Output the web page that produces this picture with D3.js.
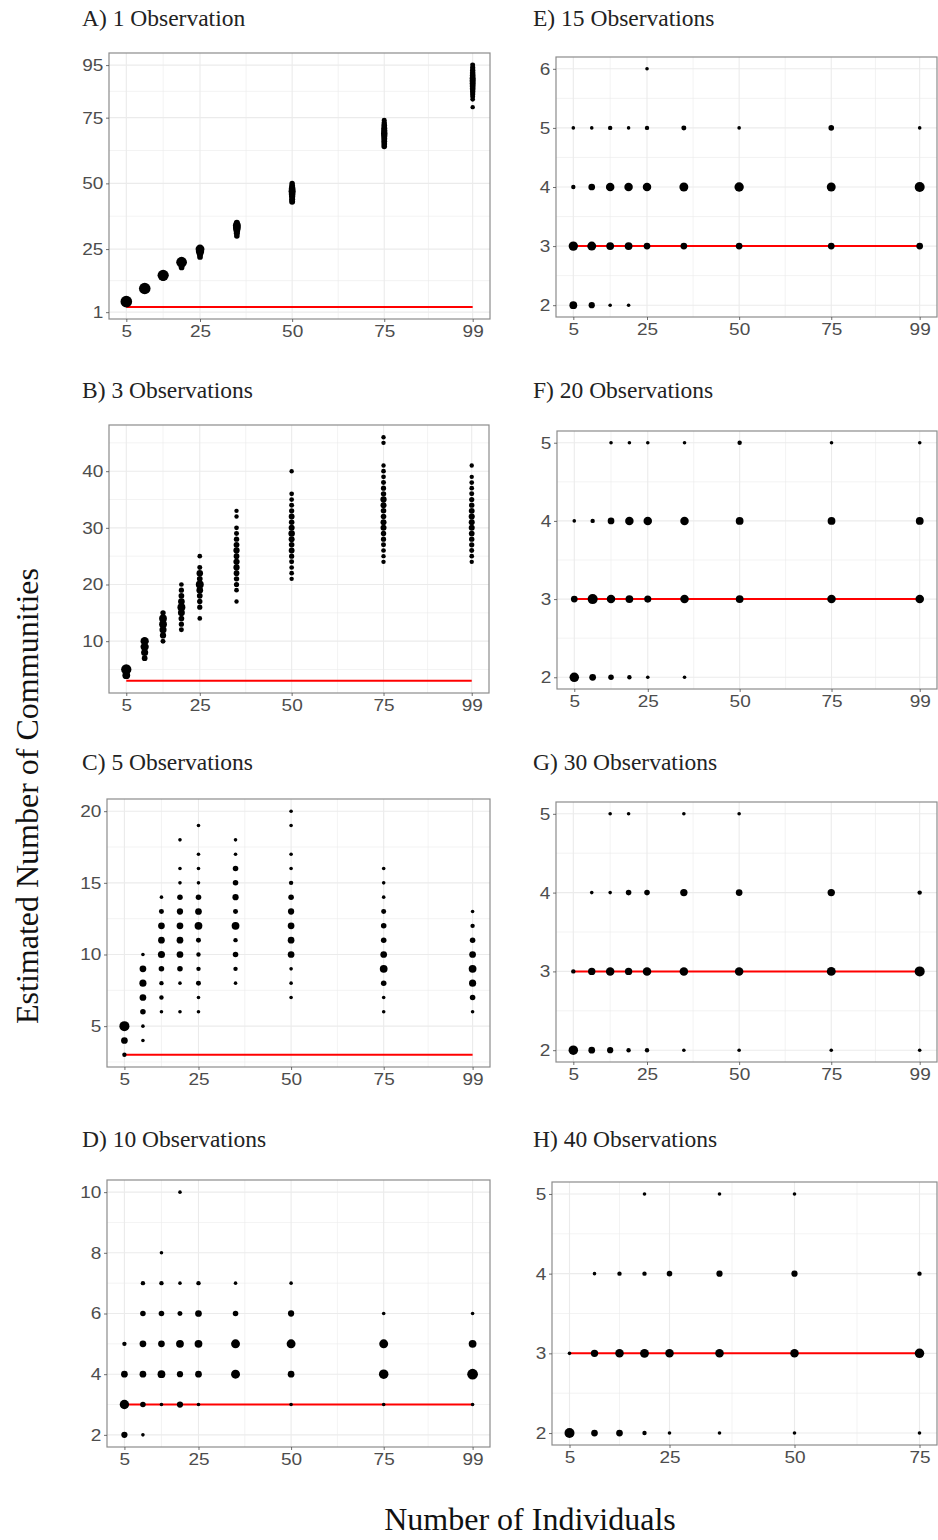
<!DOCTYPE html>
<html>
<head>
<meta charset="utf-8">
<script src="https://cdn.jsdelivr.net/npm/d3@7/dist/d3.min.js"></script>
<style>
  body { margin: 0; background: #fff; }
  svg { display: block; }
  .tick text { font-family: "Liberation Sans", Arial, sans-serif; font-size: 17px; fill: #4d4d4d; }
  .tick line { stroke: #4d4d4d; stroke-width: 0.8; }
  .ptitle { font-family: "Liberation Serif", "Times New Roman", serif; font-size: 23.5px; fill: #222; }
  .atitle { font-family: "Liberation Serif", "Times New Roman", serif; font-size: 32px; fill: #111; }
</style>
</head>
<body>
<svg id="chart" width="938" height="1540"></svg>
<script>
// estimated number of communities, true value is 3
var trueCommunities = 3;
var xTicksMain = [5, 25, 50, 75, 99];
var xTicksH = [5, 25, 50, 75];
var yTicksA = [1, 25, 50, 75, 95];
var yTicksB = [10, 20, 30, 40];
var yTicksC = [5, 10, 15, 20];
var yTicksD = [2, 4, 6, 8, 10];
var yTicksE = [2, 3, 4, 5, 6];
var yTicksFGH = [2, 3, 4, 5];

// [individuals, estimate, count of runs]
var obsA = [
  [5,5,100],
  [10,10,100],
  [15,15,92],[15,14,8],
  [20,20,80],[20,19,12],[20,18,8],
  [25,25,45],[25,24,35],[25,23,12],[25,22,8],
  [35,35,10],[35,34,30],[35,33,28],[35,32,15],[35,31,10],[35,30,7],
  [50,50,6],[50,49,10],[50,48,16],[50,47,20],[50,46,16],[50,45,12],[50,44,10],[50,43,10],
  [75,74,4],[75,73,6],[75,72,8],[75,71,10],[75,70,12],[75,69,14],[75,68,12],[75,67,10],[75,66,9],[75,65,8],[75,64,7],
  [99,95,4],[99,94,5],[99,93,6],[99,92,7],[99,91,8],[99,90,10],[99,89,11],[99,88,10],[99,87,9],[99,86,8],[99,85,6],[99,84,5],[99,83,4],[99,82,3],[99,79,2]
];
var obsB = [
  [5,5,70],[5,4,28],
  [10,10,35],[10,9,35],[10,8,20],[10,7,8],
  [15,15,6],[15,14,28],[15,13,28],[15,12,20],[15,11,12],[15,10,4],
  [20,20,3],[20,19,5],[20,18,8],[20,17,16],[20,16,30],[20,15,18],[20,14,8],[20,13,5],[20,12,4],
  [25,25,3],[25,23,4],[25,22,14],[25,21,8],[25,20,30],[25,19,16],[25,18,8],[25,17,6],[25,16,5],[25,14,3],
  [35,33,2],[35,32,2],[35,30,3],[35,29,4],[35,28,6],[35,27,9],[35,26,12],[35,25,8],[35,24,12],[35,23,12],[35,22,8],[35,21,6],[35,20,5],[35,19,3],[35,17,2],
  [50,40,2],[50,36,3],[50,35,3],[50,34,4],[50,33,5],[50,32,9],[50,31,7],[50,30,10],[50,29,14],[50,28,10],[50,27,7],[50,26,9],[50,25,5],[50,24,4],[50,23,3],[50,22,3],[50,21,2],
  [75,46,2],[75,45,2],[75,41,2],[75,40,3],[75,39,3],[75,38,4],[75,37,5],[75,36,6],[75,35,12],[75,34,10],[75,33,7],[75,32,7],[75,31,10],[75,30,10],[75,29,6],[75,28,5],[75,27,4],[75,26,3],[75,25,2],[75,24,2],
  [99,41,2],[99,39,2],[99,38,3],[99,37,3],[99,36,4],[99,35,5],[99,34,6],[99,33,9],[99,32,11],[99,31,10],[99,30,10],[99,29,8],[99,28,6],[99,27,5],[99,26,4],[99,25,3],[99,24,2]
];
var obsC = [
  [5,5,65],[5,4,16],[5,3,2],
  [10,10,1],[10,9,16],[10,8,20],[10,7,16],[10,6,7],[10,5,1],[10,4,1],
  [15,14,1],[15,13,4],[15,12,16],[15,11,16],[15,10,20],[15,9,7],[15,8,2],[15,7,2],[15,6,1],
  [20,18,1],[20,16,1],[20,15,1],[20,14,7],[20,13,12],[20,12,16],[20,11,16],[20,10,16],[20,9,7],[20,8,1],[20,6,1],
  [25,19,1],[25,17,1],[25,16,1],[25,15,1],[25,14,7],[25,13,16],[25,12,28],[25,11,4],[25,10,2],[25,9,2],[25,8,4],[25,7,1],[25,6,1],
  [35,18,1],[35,17,1],[35,16,7],[35,15,7],[35,14,12],[35,13,4],[35,12,28],[35,11,2],[35,10,7],[35,9,2],[35,8,1],
  [50,20,1],[50,19,1],[50,17,1],[50,16,1],[50,15,2],[50,14,7],[50,13,12],[50,12,16],[50,11,16],[50,10,16],[50,9,1],[50,8,1],[50,7,1],
  [75,16,1],[75,15,1],[75,14,1],[75,13,4],[75,12,7],[75,11,7],[75,10,16],[75,9,28],[75,8,7],[75,7,1],[75,6,1],
  [99,13,1],[99,12,2],[99,11,7],[99,10,16],[99,9,28],[99,8,20],[99,7,7],[99,6,1]
];
var obsD = [
  [5,5,2],[5,4,16],[5,3,52],[5,2,12],
  [10,7,2],[10,6,7],[10,5,16],[10,4,16],[10,3,7],[10,2,1],
  [15,8,1],[15,7,2],[15,6,7],[15,5,16],[15,4,28],[15,3,1],
  [20,10,1],[20,7,1],[20,6,4],[20,5,28],[20,4,12],[20,3,12],
  [25,7,2],[25,6,16],[25,5,28],[25,4,16],[25,3,1],
  [35,7,1],[35,6,7],[35,5,45],[35,4,45],
  [50,7,1],[50,6,12],[50,5,45],[50,4,16],[50,3,1],
  [75,6,1],[75,5,45],[75,4,55],[75,3,1],
  [99,6,1],[99,5,28],[99,4,80],[99,3,1]
];
var obsE = [
  [5,5,1],[5,4,2],[5,3,52],[5,2,28],
  [10,5,1],[10,4,16],[10,3,45],[10,2,12],
  [15,5,2],[15,4,38],[15,3,28],[15,2,1],
  [20,5,1],[20,4,38],[20,3,28],[20,2,1],
  [25,6,1],[25,5,2],[25,4,38],[25,3,16],
  [35,5,4],[35,4,45],[35,3,16],
  [50,5,1],[50,4,52],[50,3,16],
  [75,5,7],[75,4,45],[75,3,16],
  [99,5,1],[99,4,65],[99,3,16]
];
var obsF = [
  [5,4,1],[5,3,16],[5,2,55],
  [10,4,2],[10,3,65],[10,2,16],
  [15,5,1],[15,4,16],[15,3,38],[15,2,7],
  [20,5,1],[20,4,38],[20,3,28],[20,2,2],
  [25,5,1],[25,4,38],[25,3,20],[25,2,1],
  [35,5,1],[35,4,38],[35,3,38],[35,2,1],
  [50,5,2],[50,4,28],[50,3,28],
  [75,5,1],[75,4,28],[75,3,38],
  [99,5,1],[99,4,28],[99,3,38]
];
var obsG = [
  [5,3,2],[5,2,55],
  [10,4,1],[10,3,23],[10,2,16],
  [15,5,1],[15,4,1],[15,3,38],[15,2,12],
  [20,5,1],[20,4,7],[20,3,23],[20,2,2],
  [25,4,7],[25,3,38],[25,2,2],
  [35,5,1],[35,4,23],[35,3,38],[35,2,1],
  [50,5,1],[50,4,16],[50,3,38],[50,2,1],
  [75,4,23],[75,3,45],[75,2,1],
  [99,4,2],[99,3,65],[99,2,1]
];
var obsH = [
  [5,3,1],[5,2,65],
  [10,4,1],[10,3,23],[10,2,16],
  [15,4,2],[15,3,38],[15,2,16],
  [20,5,1],[20,4,2],[20,3,45],[20,2,2],
  [25,4,7],[25,3,38],[25,2,1],
  [35,5,1],[35,4,12],[35,3,38],[35,2,1],
  [50,5,1],[50,4,12],[50,3,38],[50,2,1],
  [75,4,2],[75,3,55],[75,2,1]
];

// panel boxes: [left, top, right, bottom]
var panels = [
  {title: "A) 1 Observation",   data: obsA, xTicks: xTicksMain, yTicks: yTicksA,   box: [109, 53, 490, 319],   tx: 82},
  {title: "B) 3 Observations",  data: obsB, xTicks: xTicksMain, yTicks: yTicksB,   box: [109, 425, 489, 693],  tx: 82},
  {title: "C) 5 Observations",  data: obsC, xTicks: xTicksMain, yTicks: yTicksC,   box: [107, 799, 490, 1067], tx: 82},
  {title: "D) 10 Observations", data: obsD, xTicks: xTicksMain, yTicks: yTicksD,   box: [107, 1180, 490, 1447], tx: 82},
  {title: "E) 15 Observations", data: obsE, xTicks: xTicksMain, yTicks: yTicksE,   box: [556, 57, 937, 317],   tx: 533},
  {title: "F) 20 Observations", data: obsF, xTicks: xTicksMain, yTicks: yTicksFGH, box: [557, 431, 937, 689],  tx: 533},
  {title: "G) 30 Observations", data: obsG, xTicks: xTicksMain, yTicks: yTicksFGH, box: [556, 802, 937, 1062], tx: 533},
  {title: "H) 40 Observations", data: obsH, xTicks: xTicksH,    yTicks: yTicksFGH, box: [552, 1182, 937, 1445], tx: 533}
];
var titleY = [26, 398, 770, 1147];

var svg = d3.select("#chart");
var gridCol = "#ebebeb";
var sizeScale = d3.scaleLinear().domain([0, 1]).range([1.8, 5.8]);
function radius(n) { return sizeScale(Math.sqrt((n - 1) / 99)); }

function expand(ext) {
  var d = (ext[1] - ext[0]) * 0.05;
  return [ext[0] - d, ext[1] + d];
}
// ggplot style minor breaks: midpoints, one step beyond the ends
function minorBreaks(b, dom) {
  var ext = [b[0] - (b[1] - b[0])].concat(b, [b[b.length - 1] + (b[b.length - 1] - b[b.length - 2])]);
  var out = [];
  for (var i = 0; i < ext.length - 1; i++) {
    var m = (ext[i] + ext[i + 1]) / 2;
    if (m > dom[0] && m < dom[1]) out.push(m);
  }
  return out;
}

panels.forEach(function (p, i) {
  var b = p.box;
  var xExt = d3.extent(p.data, function (d) { return d[0]; });
  var yExt = d3.extent(p.data.map(function (d) { return d[1]; }).concat([trueCommunities]));
  var xDom = expand(xExt), yDom = expand(yExt);
  var x = d3.scaleLinear().domain(xDom).range([b[0], b[2]]);
  var y = d3.scaleLinear().domain(yDom).range([b[3], b[1]]);
  var g = svg.append("g");

  // grid
  var grid = g.append("g");
  grid.selectAll(".xmin").data(minorBreaks(p.xTicks, xDom)).enter().append("line")
    .attr("x1", x).attr("x2", x).attr("y1", b[1]).attr("y2", b[3])
    .attr("stroke", gridCol).attr("stroke-width", 0.6);
  grid.selectAll(".ymin").data(minorBreaks(p.yTicks, yDom)).enter().append("line")
    .attr("y1", y).attr("y2", y).attr("x1", b[0]).attr("x2", b[2])
    .attr("stroke", gridCol).attr("stroke-width", 0.6);
  grid.selectAll(".xmaj").data(p.xTicks).enter().append("line")
    .attr("x1", x).attr("x2", x).attr("y1", b[1]).attr("y2", b[3])
    .attr("stroke", gridCol).attr("stroke-width", 1.1);
  grid.selectAll(".ymaj").data(p.yTicks).enter().append("line")
    .attr("y1", y).attr("y2", y).attr("x1", b[0]).attr("x2", b[2])
    .attr("stroke", gridCol).attr("stroke-width", 1.1);

  // true number line
  g.append("line")
    .attr("x1", x(xExt[0])).attr("x2", x(xExt[1]))
    .attr("y1", y(trueCommunities)).attr("y2", y(trueCommunities))
    .attr("stroke", "#ff0000").attr("stroke-width", 2);

  g.append("g").selectAll("circle").data(p.data).enter().append("circle")
    .attr("cx", function (d) { return x(d[0]); })
    .attr("cy", function (d) { return y(d[1]); })
    .attr("r", function (d) { return radius(d[2]); })
    .attr("fill", "#000");

  g.append("rect")
    .attr("x", b[0]).attr("y", b[1]).attr("width", b[2] - b[0]).attr("height", b[3] - b[1])
    .attr("fill", "none").attr("stroke", "#8c8c8c").attr("stroke-width", 1.2);

  var fmt = d3.format("d");
  var xa = g.append("g").attr("transform", "translate(0," + b[3] + ")")
    .call(d3.axisBottom(x).tickValues(p.xTicks).tickFormat(fmt).tickSize(3).tickPadding(3));
  var ya = g.append("g").attr("transform", "translate(" + b[0] + ",0)")
    .call(d3.axisLeft(y).tickValues(p.yTicks).tickFormat(fmt).tickSize(3).tickPadding(2));
  xa.select(".domain").remove();
  ya.select(".domain").remove();
  // labels in the picture are a little wide
  xa.selectAll(".tick text").attr("transform", "scale(1.12,1)");
  ya.selectAll(".tick text").attr("transform", "scale(1.12,1)");

  svg.append("text").attr("class", "ptitle")
    .attr("x", p.tx).attr("y", titleY[i % 4])
    .text(p.title);
});

svg.append("text").attr("class", "atitle")
  .attr("transform", "translate(38,796) rotate(-90)")
  .attr("text-anchor", "middle")
  .text("Estimated Number of Communities");
svg.append("text").attr("class", "atitle")
  .attr("x", 530).attr("y", 1530)
  .attr("text-anchor", "middle")
  .text("Number of Individuals");
</script>
</body>
</html>
